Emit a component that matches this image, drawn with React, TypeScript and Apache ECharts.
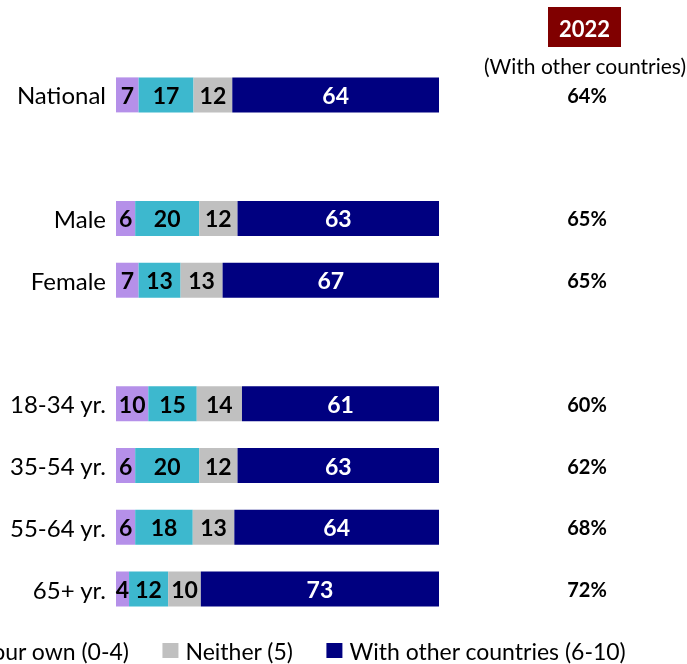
import React, { useEffect, useRef } from "react";
import * as echarts from "echarts";

const categories = ["National", "", "Male", "Female", "", "18-34 yr.", "35-54 yr.", "55-64 yr.", "65+ yr."];
const dontKnow = [7, null, 6, 7, null, 10, 6, 6, 4];
const onOurOwn = [17, null, 20, 13, null, 15, 20, 18, 12];
const neither = [12, null, 12, 13, null, 14, 12, 13, 10];
const withOthers = [64, null, 63, 67, null, 61, 63, 64, 73];
const share2022 = ["64%", "", "65%", "65%", "", "60%", "62%", "68%", "72%"];

const seriesNames = ["Don't know", "On our own (0-4)", "Neither (5)", "With other countries (6-10)"];
const seriesValues = [dontKnow, onOurOwn, neither, withOthers];
const seriesColors = ["#B590E9", "#3DB8CE", "#C0C0C0", "#000080"];
const labelColors = ["#000000", "#000000", "#000000", "#FFFFFF"];

const FONT = "Lato";

export default function App() {
  const ref = useRef<HTMLDivElement>(null);
  useEffect(() => {
    if (!ref.current) return;
    const chart = echarts.init(ref.current, null, { renderer: "svg" });
    const totals = categories.map((_, i) =>
      seriesValues.reduce((s, arr) => s + (arr[i] ?? 0), 0)
    );
    const series = seriesValues.map((arr, si) => ({
      name: seriesNames[si],
      type: "bar",
      stack: "total",
      barWidth: 35,
      itemStyle: { color: seriesColors[si] },
      label: {
        show: true,
        position: "inside",
        color: labelColors[si],
        fontFamily: FONT,
        fontWeight: "bold",
        fontSize: 23,
        formatter: (p: any) => String(arr[p.dataIndex] ?? ""),
      },
      data: arr.map((v, i) => (v == null ? null : (v / totals[i]) * 100)),
    }));
    chart.setOption({
      animation: false,
      grid: { left: 116, right: 248, top: 64, bottom: 44 },
      xAxis: { type: "value", min: 0, max: 100, show: false },
      yAxis: [
        {
          type: "category",
          data: categories,
          inverse: true,
          axisLine: { show: false },
          axisTick: { show: false },
          axisLabel: {
            color: "#000",
            fontFamily: FONT,
            fontSize: 24,
            margin: 10,
            padding: [8, 0, 0, 0],
          },
        },
        {
          type: "category",
          data: share2022,
          inverse: true,
          position: "right",
          axisLine: { show: false },
          axisTick: { show: false },
          axisLabel: {
            color: "#000",
            fontFamily: FONT,
            fontSize: 20,
            fontWeight: "bold",
            align: "center",
            margin: 148,
            padding: [6, 0, 0, 0],
          },
        },
      ],
      legend: {
        left: -246,
        top: 634,
        itemWidth: 16,
        itemHeight: 15,
        itemGap: 33,
        icon: "rect",
        textStyle: { fontFamily: FONT, fontSize: 23, color: "#000", padding: [0, 0, 0, 2] },
        data: seriesNames,
      },
      graphic: [
        { type: "rect", shape: { x: 548, y: 7, width: 73, height: 40 }, style: { fill: "#800000" } },
        {
          type: "text",
          x: 584.5,
          y: 28,
          style: {
            text: "2022",
            fill: "#fff",
            fontFamily: FONT,
            fontWeight: "bold",
            fontSize: 22,
            align: "center",
            verticalAlign: "middle",
          },
        },
        {
          type: "text",
          x: 585,
          y: 65,
          style: {
            text: "(With other countries)",
            fill: "#000",
            fontFamily: FONT,
            fontSize: 21,
            align: "center",
            verticalAlign: "middle",
          },
        },
      ],
      series,
    });
    return () => chart.dispose();
  }, []);
  return <div ref={ref} style={{ position: "fixed", left: 0, top: 0, width: 687, height: 664 }} />;
}
